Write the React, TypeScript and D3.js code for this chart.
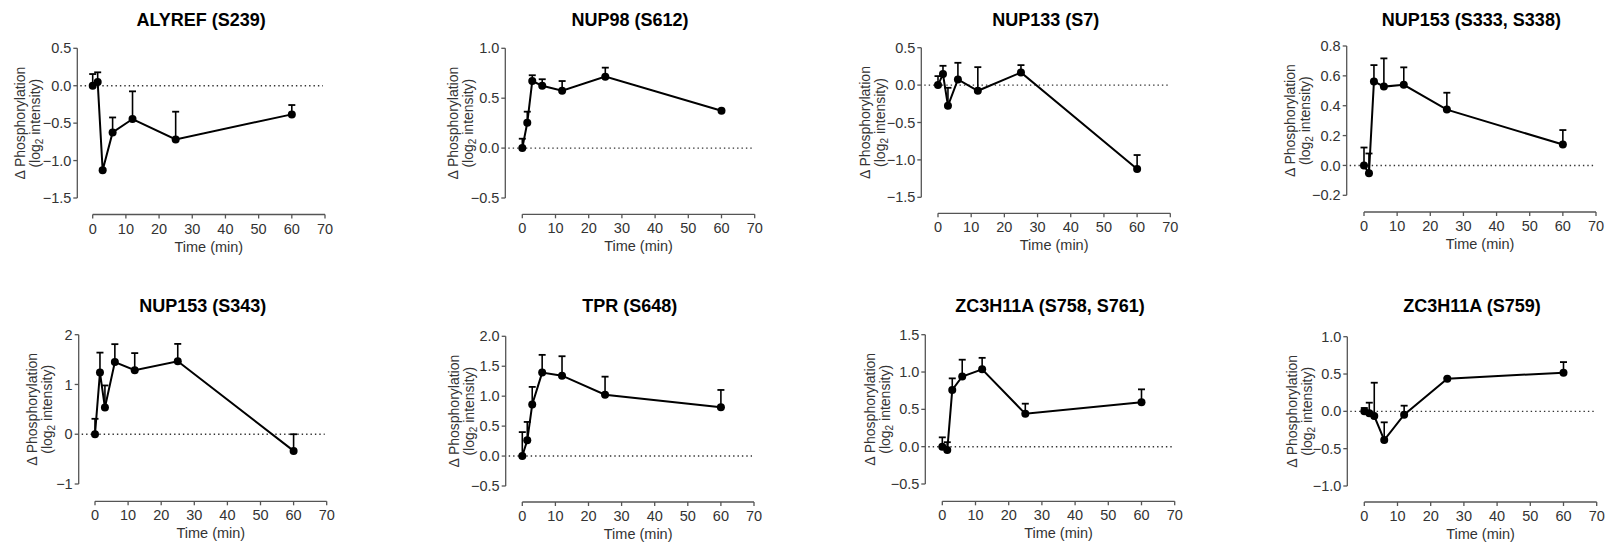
import React from 'react';
import * as d3 from 'd3';

// time course (min)
const timePoints = [0, 1.5, 3, 6, 12, 25, 60];
const xTicks = [0, 10, 20, 30, 40, 50, 60, 70];

const titles = [
  'ALYREF (S239)',
  'NUP98 (S612)',
  'NUP133 (S7)',
  'NUP153 (S333, S338)',
  'NUP153 (S343)',
  'TPR (S648)',
  'ZC3H11A (S758, S761)',
  'ZC3H11A (S759)',
];

// mean change and upper error bar, one pair per site
const alyrefMean = [0, 0.049, -1.13, -0.624, -0.445, -0.717, -0.383];
const alyrefErr = [0.156, 0.13, 0.02, 0.2, 0.37, 0.37, 0.125];
const nup98Mean = [0, 0.254, 0.672, 0.625, 0.575, 0.716, 0.375];
const nup98Err = [0.094, 0.111, 0.058, 0.065, 0.097, 0.09, 0.01];
const nup133Mean = [0, 0.147, -0.276, 0.076, -0.076, 0.169, -1.122];
const nup133Err = [0.12, 0.111, 0.24, 0.222, 0.316, 0.098, 0.187];
const nup153aMean = [0, -0.053, 0.563, 0.528, 0.54, 0.374, 0.14];
const nup153aErr = [0.12, 0.133, 0.109, 0.189, 0.117, 0.113, 0.097];
const nup153bMean = [0, 1.24, 0.536, 1.45, 1.286, 1.467, -0.335];
const nup153bErr = [0.31, 0.4, 0.444, 0.36, 0.344, 0.348, 0.335];
const tprMean = [0, 0.263, 0.86, 1.394, 1.343, 1.025, 0.814];
const tprErr = [0.4, 0.307, 0.295, 0.296, 0.324, 0.301, 0.29];
const zc758Mean = [0, -0.045, 0.76, 0.94, 1.036, 0.44, 0.594];
const zc758Err = [0.125, 0.105, 0.155, 0.225, 0.154, 0.136, 0.174];
const zc759Mean = [0, -0.027, -0.0625, -0.384, -0.045, 0.4375, 0.518];
const zc759Err = [0.045, 0.143, 0.446, 0.237, 0.121, 0.01, 0.142];

const yTicksList = [
  [-1.5, -1, -0.5, 0, 0.5],
  [-0.5, 0, 0.5, 1],
  [-1.5, -1, -0.5, 0, 0.5],
  [-0.2, 0, 0.2, 0.4, 0.6, 0.8],
  [-1, 0, 1, 2],
  [-0.5, 0, 0.5, 1, 1.5, 2],
  [-0.5, 0, 0.5, 1, 1.5],
  [-1, -0.5, 0, 0.5, 1],
];
const yFormats = ['.1f', '.1f', '.1f', '.1f', 'd', '.1f', '.1f', '.1f'];

const means = [alyrefMean, nup98Mean, nup133Mean, nup153aMean, nup153bMean, tprMean, zc758Mean, zc759Mean];
const errs = [alyrefErr, nup98Err, nup133Err, nup153aErr, nup153bErr, tprErr, zc758Err, zc759Err];

// panel geometry (pixels)
const layout = [
  { ax: 77.3, x0: 92.7, x1: 325, yTop: 48.3, yBot: 198, xAxisY: 214.5, titleY: 26, lab: 57 },
  { ax: 505.3, x0: 522.3, x1: 754.7, yTop: 48.3, yBot: 198, xAxisY: 214.3, titleY: 26, lab: 52 },
  { ax: 921.3, x0: 938, x1: 1170.3, yTop: 47.7, yBot: 197.3, xAxisY: 213.3, titleY: 26, lab: 56.7 },
  { ax: 1346.7, x0: 1364, x1: 1596, yTop: 46, yBot: 195.3, xAxisY: 212, titleY: 26, lab: 56.7 },
  { ax: 78.7, x0: 95, x1: 326.7, yTop: 334.7, yBot: 484, xAxisY: 501.3, titleY: 312, lab: 47 },
  { ax: 505.7, x0: 522.3, x1: 754, yTop: 336.3, yBot: 486, xAxisY: 502, titleY: 312, lab: 51.7 },
  { ax: 925.3, x0: 942.3, x1: 1174.7, yTop: 334.7, yBot: 484, xAxisY: 501.3, titleY: 312, lab: 55.7 },
  { ax: 1347.3, x0: 1364.3, x1: 1596.7, yTop: 336.7, yBot: 486, xAxisY: 502, titleY: 312, lab: 55.7 },
];

const FONT = 'Arial, "Liberation Sans", Helvetica, sans-serif';
const AXIS = '#555';
const TEXT = '#333';
const TICK_FS = 14.5;
const LAB_FS = 14;

const Panel = ({ i }) => {
  const L = layout[i];
  const yTicks = yTicksList[i];
  const fmt = d3.format(yFormats[i]);
  const x = d3.scaleLinear().domain([0, 70]).range([L.x0, L.x1]);
  const y = d3.scaleLinear().domain([yTicks[0], yTicks[yTicks.length - 1]]).range([L.yBot, L.yTop]);
  const pts = timePoints.map((t, k) => ({ t, m: means[i][k], e: errs[i][k] }));
  const line = d3.line().x(d => x(d.t)).y(d => y(d.m));
  const yMid = (L.yTop + L.yBot) / 2;
  const labX = L.ax - L.lab;

  return (
    <g>
      <text x={(L.ax + L.x1) / 2} y={L.titleY} textAnchor="middle" fontSize={18} fontWeight="bold" fill="#000">
        {titles[i]}
      </text>

      {/* y axis */}
      <line x1={L.ax} x2={L.ax} y1={L.yTop} y2={L.yBot} stroke={AXIS} strokeWidth={1.3} />
      {yTicks.map(v => (
        <g key={v}>
          <line x1={L.ax - 4} x2={L.ax} y1={y(v)} y2={y(v)} stroke={AXIS} strokeWidth={1.3} />
          <text x={L.ax - 6} y={y(v)} dy="0.35em" textAnchor="end" fontSize={TICK_FS} fill={TEXT}>{fmt(v)}</text>
        </g>
      ))}

      {/* x axis */}
      <line x1={L.x0} x2={L.x1} y1={L.xAxisY} y2={L.xAxisY} stroke={AXIS} strokeWidth={1.3} />
      {xTicks.map(v => (
        <g key={v}>
          <line x1={x(v)} x2={x(v)} y1={L.xAxisY} y2={L.xAxisY + 4} stroke={AXIS} strokeWidth={1.3} />
          <text x={x(v)} y={L.xAxisY + 19} textAnchor="middle" fontSize={TICK_FS} fill={TEXT}>{v}</text>
        </g>
      ))}
      <text x={(L.x0 + L.x1) / 2} y={L.xAxisY + 37} textAnchor="middle" fontSize={TICK_FS} fill={TEXT}>Time (min)</text>

      {/* y title */}
      <g transform={`translate(${labX},${yMid}) rotate(-90)`}>
        <text x={0} y={0} dy="0.35em" textAnchor="middle" fontSize={LAB_FS} fill={TEXT}>Δ Phosphorylation</text>
      </g>
      <g transform={`translate(${labX + 15},${yMid}) rotate(-90)`}>
        <text x={0} y={0} dy="0.35em" textAnchor="middle" fontSize={LAB_FS} fill={TEXT}>
          (log<tspan fontSize={10} dy={3}>2</tspan><tspan dy={-3}> intensity)</tspan>
        </text>
      </g>

      {/* zero line */}
      <line x1={L.ax + 3} x2={L.x1 - 2} y1={y(0)} y2={y(0)} stroke="#333" strokeWidth={1.4} strokeDasharray="1.4 3" />

      {/* error bars */}
      {pts.map(d => (
        <g key={d.t}>
          <line x1={x(d.t)} x2={x(d.t)} y1={y(d.m)} y2={y(d.m + d.e)} stroke="#000" strokeWidth={1.6} />
          <line x1={x(d.t) - 3.5} x2={x(d.t) + 3.5} y1={y(d.m + d.e)} y2={y(d.m + d.e)} stroke="#000" strokeWidth={1.8} />
        </g>
      ))}

      <path d={line(pts)} fill="none" stroke="#000" strokeWidth={2} />
      {pts.map(d => (
        <circle key={d.t} cx={x(d.t)} cy={y(d.m)} r={4} fill="#000" />
      ))}
    </g>
  );
};

const App = () => {
  return (
    <div style={{ position: 'absolute', left: 0, top: 0 }}>
      <svg width={1614} height={544} style={{ display: 'block', background: '#fff' }} fontFamily={FONT}>
        {titles.map((t, i) => <Panel key={t} i={i} />)}
      </svg>
    </div>
  );
};

export default App;
